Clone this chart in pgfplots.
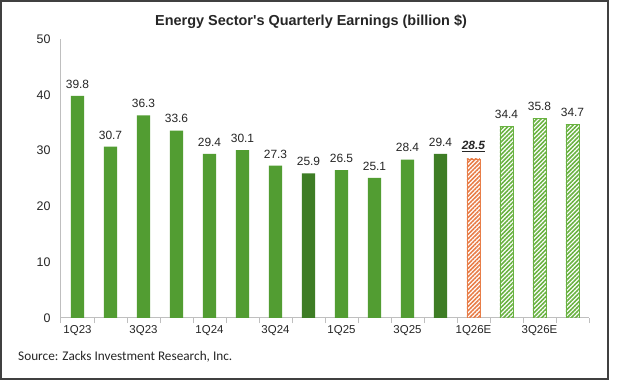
\documentclass[border=0pt]{standalone}
\usepackage{pgfplots}
\pgfplotsset{compat=1.18}
\usepackage{fontspec}
\setmainfont{Liberation Sans}
\newfontfamily\tfont{Liberation Sans}
\newfontfamily\srcfont{Carlito}
\usetikzlibrary{patterns.meta}
\definecolor{gmed}{RGB}{82,157,50}
\definecolor{gdark}{RGB}{62,125,37}
\definecolor{gl}{RGB}{105,178,65}
\definecolor{orng}{RGB}{232,125,72}
\definecolor{axgray}{RGB}{191,191,191}
\definecolor{txt}{RGB}{38,38,38}
\begin{document}
\begin{tikzpicture}
\path[use as bounding box] (0,0) rectangle (620bp,380bp);
\fill[white] (0,0) rectangle (620bp,380bp);
\draw[line width=2bp, black!75] (1bp,1bp) rectangle (608bp,379bp);
\node[font=\tfont\bfseries\fontsize{14.5}{16}\selectfont, text=txt] at (311bp,358bp) {Energy Sector's Quarterly Earnings (billion \$)};
\node[font=\srcfont\fontsize{13.3}{15}\selectfont, anchor=west, text=txt, inner sep=0pt] at (18bp,23bp) {Source: Zacks Investment Research, Inc.};
\begin{axis}[at={(61bp,62bp)}, anchor=south west, scale only axis, width=528bp, height=279bp,
 xmin=-0.5, xmax=15.5, ymin=0, ymax=50,
 axis x line=bottom, axis y line=left, axis line style={draw=axgray, line width=1bp, -},
 ytick={0,10,...,50}, xtick={0,2,...,14},
 xticklabels={1Q23,3Q23,1Q24,3Q24,1Q25,3Q25,1Q26E,3Q26E},
 minor xtick={-0.5,0.5,...,15.5},
 major tick length=0pt, minor tick length=5bp, tick align=outside,
 minor tick style={draw=axgray, line width=1bp},
 /pgf/number format/assume math mode=true,
 ticklabel style={text=txt},
 xticklabel style={font=\fontsize{11.5}{13}\selectfont, text height=12bp, anchor=north},
 yticklabel style={font=\fontsize{12.5}{14}\selectfont, xshift=-7bp},
 ybar, bar shift=0pt, bar width=0.4,
 nodes near coords,
 every node near coord/.append style={font=\fontsize{12}{14}\selectfont, text=txt, yshift=4bp,
   /pgf/number format/fixed, /pgf/number format/precision=1, /pgf/number format/fixed zerofill},
]
\addplot[fill=gmed, draw=none] coordinates {(0,39.8)(1,30.7)(2,36.3)(3,33.6)(4,29.4)(5,30.1)(6,27.3)(8,26.5)(9,25.1)(10,28.4)};
\addplot[fill=gdark, draw=none] coordinates {(7,25.9)(11,29.4)};
\addplot[pattern={Lines[angle=45,distance=3bp,line width=1.6bp]}, pattern color=orng, draw=orng, line width=0.6bp,
  nodes near coords={\underline{\textbf{\textit{28.5}}}}] coordinates {(12,28.5)};
\addplot[pattern={Lines[angle=45,distance=3bp,line width=1.6bp]}, pattern color=gl, draw=gl, line width=0.6bp] coordinates {(13,34.4)(14,35.8)(15,34.7)};
\end{axis}
\end{tikzpicture}
\end{document}
